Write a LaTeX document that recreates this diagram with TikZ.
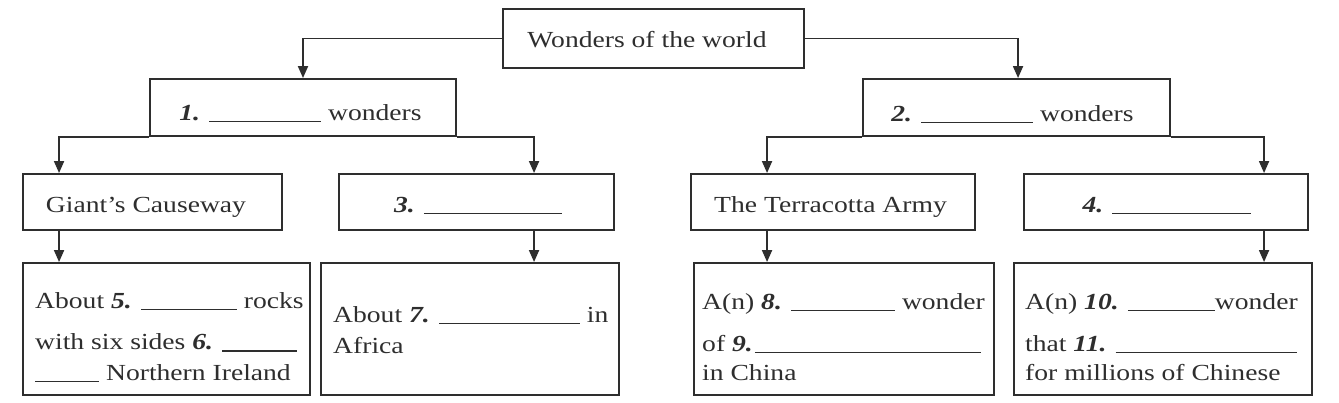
\documentclass[tikz,border=0pt]{standalone}
\usepackage{fontspec}
\setmainfont{Liberation Serif}[FakeStretch=1.2]
\usetikzlibrary{arrows.meta,calc}
\definecolor{ink}{HTML}{2E2E2E}
\newcommand{\blank}[1]{\rule[-1.5pt]{#1pt}{1.3pt}}
\newcommand{\num}[1]{\textbf{\textit{#1}}}
\begin{document}
\begin{tikzpicture}[x=1pt,y=1pt,
  box/.style={draw=ink,line width=1.9pt,inner sep=0pt,rectangle},
  lbl/.style={inner sep=0pt,anchor=base,text=ink,font=\fontsize{23}{26}\selectfont},
  lline/.style={inner sep=0pt,anchor=base west,text=ink,font=\fontsize{23}{26}\selectfont},
  arr/.style={draw=ink,line width=1.8pt,-{Triangle[length=12pt,width=10pt]}}]
\useasboundingbox[fill=white] (0,0) rectangle (1339,-403);
% boxes
\node[box,minimum width=301pt,minimum height=59pt] (top) at (653.5,-38.5) {};
\node[box,minimum width=306pt,minimum height=57pt] (b1) at (303,-107.5) {};
\node[box,minimum width=307pt,minimum height=57pt] (b2) at (1016.5,-107.5) {};
\node[box,minimum width=259pt,minimum height=56pt] (giant) at (152.5,-202) {};
\node[box,minimum width=275pt,minimum height=56pt] (b3) at (476.5,-202) {};
\node[box,minimum width=284pt,minimum height=56pt] (terr) at (833,-202) {};
\node[box,minimum width=284pt,minimum height=56pt] (b4) at (1166,-202) {};
\node[box,minimum width=287pt,minimum height=132pt] (botA) at (166.5,-329) {};
\node[box,minimum width=298pt,minimum height=132pt] (botB) at (470,-329) {};
\node[box,minimum width=300pt,minimum height=132pt] (botC) at (844,-329) {};
\node[box,minimum width=298pt,minimum height=132pt] (botD) at (1163,-329) {};
% single-line texts
\node[lbl] (ttop) at (647,-47.5) {Wonders of the world};
\node[lbl] (tb1) at (300.5,-121) {\num{1.} \blank{112} wonders};
\node[lbl] (tb2) at (1012.5,-122) {\num{2.} \blank{112} wonders};
\node[lbl] (tgiant) at (146,-213) {Giant’s Causeway};
\node[lbl] (tb3) at (478,-213) {\num{3.} \blank{138}};
\node[lbl] (tterr) at (830.5,-213) {The Terracotta Army};
\node[lbl] (tb4) at (1167,-213) {\num{4.} \blank{139}};
% multi-line texts
\node[lline] (a1) at (35,-309) {About \num{5.} \blank{96} rocks};
\node[lline] (a2) at (35,-350) {with six sides \num{6.} \blank{75}};
\node[lline] (a3) at (35,-381) {\blank{64} Northern Ireland};
\node[lline] (bb1) at (333,-323) {About \num{7.} \blank{141} in};
\node[lline] (bb2) at (333,-353) {Africa};
\node[lline] (c1) at (702,-310) {A(n) \num{8.} \blank{104} wonder};
\node[lline] (c2) at (702,-352) {of \num{9.}\hspace{2pt}\blank{226}};
\node[lline] (c3) at (702,-381) {in China};
\node[lline] (d1) at (1025,-310) {A(n) \num{10.} \blank{87}wonder};
\node[lline] (d2) at (1025,-352) {that \num{11.} \blank{181}};
\node[lline] (d3) at (1025,-381) {for millions of Chinese};
% connectors
\draw[arr] (top.west) -| (b1.north);
\draw[arr] (top.east) -| ($(b2.north west)+(156,0)$);
\draw[arr] (b1.south west) -| ($(giant.north west)+(37,0)$);
\draw[arr] (b1.south east) -| ($(b3.north west)+(196,0)$);
\draw[arr] (b2.south west) -| ($(terr.north west)+(77,0)$);
\draw[arr] (b2.south east) -| ($(b4.north west)+(241,0)$);
\draw[arr] ($(giant.south west)+(37,0)$) -- ($(botA.north west)+(37,0)$);
\draw[arr] ($(b3.south west)+(196,0)$) -- ($(botB.north west)+(214,0)$);
\draw[arr] ($(terr.south west)+(77,0)$) -- ($(botC.north west)+(74,0)$);
\draw[arr] ($(b4.south west)+(241,0)$) -- ($(botD.north west)+(251,0)$);
\end{tikzpicture}
\end{document}
